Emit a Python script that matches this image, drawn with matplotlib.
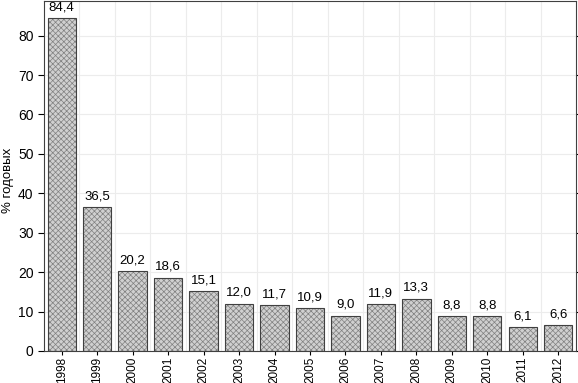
import matplotlib
matplotlib.use("Agg")
import matplotlib.pyplot as plt
import numpy as np

years = ["1998", "1999", "2000", "2001", "2002", "2003", "2004", "2005",
         "2006", "2007", "2008", "2009", "2010", "2011", "2012"]
values = [84.4, 36.5, 20.2, 18.6, 15.1, 12.0, 11.7, 10.9,
          9.0, 11.9, 13.3, 8.8, 8.8, 6.1, 6.6]
labels = ["84,4", "36,5", "20,2", "18,6", "15,1", "12,0", "11,7", "10,9",
          "9,0", "11,9", "13,3", "8,8", "8,8", "6,1", "6,6"]

plt.rcParams['font.family'] = ['Liberation Sans', 'DejaVu Sans']
plt.rcParams['hatch.linewidth'] = 0.5

fig = plt.figure(figsize=(5.78, 3.83), dpi=100)
ax = fig.add_axes([0.0761, 0.0836, 0.9204, 0.9150])

x = np.arange(len(years))
# hatched fill first, then outline on top
ax.bar(x, values, width=0.8, color='#d0d0d0', edgecolor='#808080',
       hatch='xxxxxx', linewidth=0, zorder=2)
ax.bar(x, values, width=0.8, fill=False, edgecolor='#404040',
       linewidth=0.8, zorder=3)

for xi, v, lab in zip(x, values, labels):
    ax.text(xi, v + 1.2, lab, ha='center', va='bottom', fontsize=9.5, zorder=4)

ax.set_xlim(-0.5, len(years) - 0.5)
ax.set_ylim(0, 88.9)
ax.set_yticks(np.arange(0, 90, 10))
ax.set_xticks(x)
ax.set_xticklabels(years, rotation=90, fontsize=8.5, va='top')
ax.tick_params(axis='y', labelsize=10, right=True, direction='out', length=4)
ax.tick_params(axis='x', length=3, pad=1)
ax.set_xticks(x[:-1] + 0.5, minor=True)
ax.tick_params(axis='x', which='minor', length=0)

ax.grid(axis='y', color='#ececec', linewidth=0.8, zorder=0)
ax.grid(axis='x', which='minor', color='#ececec', linewidth=0.8, zorder=0)
ax.set_axisbelow(True)

for s in ax.spines.values():
    s.set_color('#404040')
    s.set_linewidth(0.8)

fig.text(8 / 578, 1 - 180 / 383, "% годовых", rotation=90, fontsize=9.5,
         ha='center', va='center')

fig.savefig("out.png", dpi=100)
